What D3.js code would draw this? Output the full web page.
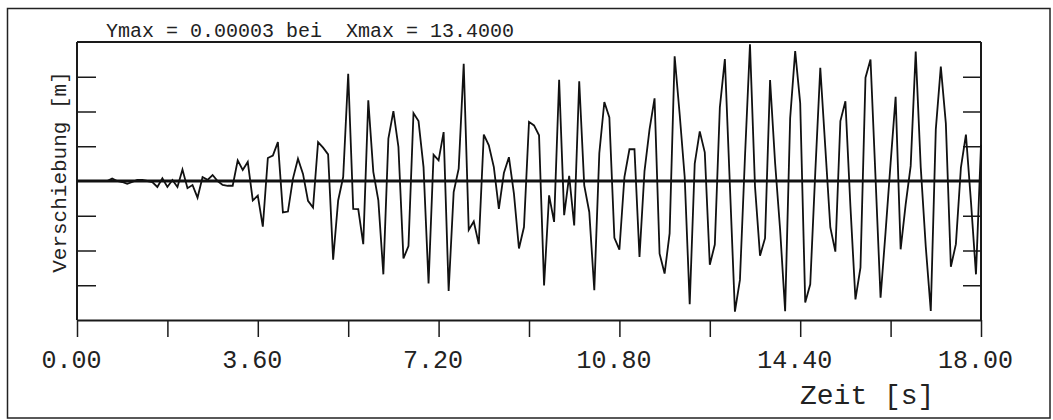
<!DOCTYPE html>
<html>
<head>
<meta charset="utf-8">
<script src="https://cdn.jsdelivr.net/npm/d3@7"></script>
<style>
  html, body { margin: 0; padding: 0; background: #fff; }
  svg { display: block; }
  text { font-family: "Liberation Mono", "DejaVu Sans Mono", monospace; fill: #222; white-space: pre; }
</style>
</head>
<body>
<svg id="chart" width="1053" height="420"></svg>
<script>
// ---- data (displacement in micrometres, sampled every dt seconds) ----
const dt = 0.1;
const displacement = [
  0, 0, 0, 0, 0, 0, 0, 0.6, 0, -0.25,
  -0.7, -0.25, 0.3, 0.3, 0, -0.25, -1.5, 0.7, -1.5, 0.25,
  -1.5, 2.9, -1.8, -1.0, -4.2, 1.0, 0.3, 1.5, 0, -1.0,
  -1.2, -1.2, 5.2, 2.8, 4.8, -4.9, -3.7, -11.5, 5.8, 6.4,
  9.8, -7.9, -7.7, 0.6, 5.6, 1.8, -5.0, -6.7, 9.8, 8.4,
  6.7, -19.8, -4.9, 1.0, 27.0, -7.0, -7.1, -15.9, 20.3, 2.3,
  -4.9, -23.5, 10.7, 17.6, 8.6, -19.5, -16.4, 17.1, 15.1, 3.5,
  -25.8, 6.6, 5.2, 12.3, -27.7, -2.8, 3.1, 29.5, -12.3, -10.2,
  -15.9, 11.7, 9.0, 3.5, -7.0, 2.0, 6.0, -3.2, -17.0, -11.6,
  14.9, 14.0, 11.5, -26.3, -3.6, -10.3, 25.5, -8.6, 1.3, -11.2,
  25.1, -1.1, -7.8, -27.5, 7.0, 19.9, 16.0, -14.3, -17.3, 1.0,
  8.0, 8.0, -19.1, 2.5, 13.0, 20.8, -18.3, -23.3, -13.2, 31.4,
  16.8, 1.0, -31.0, 4.4, 12.5, 7.2, -21.1, -16.0, 18.5, 30.7,
  -1.1, -32.9, -24.9, 6.0, 34.4, -1.4, -18.8, -14.4, 25.4, 4.6,
  -12.2, -32.8, 15.8, 32.7, 19.6, -30.6, -26.0, 2.1, 28.5, 8.4,
  -11.7, -17.8, 15.1, 20.1, -6.4, -29.8, -21.8, 26.0, 30.6, 0.8,
  -29.4, -12.8, 4.5, 21.2, -17.2, -5.9, 3.8, 32.6, 3.5, -16.5,
  -32.7, 13.0, 28.8, 14.5, -21.6, -15.9, 3.4, 11.7, -5.2, -23.5,
  9.1
];
const xDomain = [0, 18];
const yDomain = [-35, 35];
const xTicks = [0, 1.8, 3.6, 5.4, 7.2, 9.0, 10.8, 12.6, 14.4, 16.2, 18.0];
const xTickLabels = ["0.00", "3.60", "7.20", "10.80", "14.40", "18.00"];
const xLabelTicks = [0, 3.6, 7.2, 10.8, 14.4, 18.0];
const yTicks = [-26.25, -17.5, -8.75, 8.75, 17.5, 26.25];
const titleText = "Ymax = 0.00003 bei  Xmax = 13.4000";
const xTitle = "Zeit [s]";
const yTitle = "Verschiebung [m]";

// ---- layout ----
const svg = d3.select("#chart");
const L = 77, R = 981, T = 42, B = 320;

const x = d3.scaleLinear().domain(xDomain).range([L, R]);
const y = d3.scaleLinear().domain(yDomain).range([B, T]);

// outer frame
svg.append("rect")
  .attr("x", 7.5).attr("y", 8.5).attr("width", 1042.5).attr("height", 409.5)
  .attr("fill", "none").attr("stroke", "#222").attr("stroke-width", 1.5);

// plot frame: top, left and right borders
svg.append("line").attr("x1", L).attr("x2", R).attr("y1", T).attr("y2", T)
  .attr("stroke", "#1a1a1a").attr("stroke-width", 2);
svg.append("line").attr("x1", L).attr("x2", L).attr("y1", T).attr("y2", B)
  .attr("stroke", "#1a1a1a").attr("stroke-width", 2);
svg.append("line").attr("x1", R).attr("x2", R).attr("y1", T).attr("y2", B)
  .attr("stroke", "#1a1a1a").attr("stroke-width", 2);

// x axis
const xAxis = d3.axisBottom(x)
  .tickValues(xTicks)
  .tickSize(17)
  .tickSizeOuter(0)
  .tickFormat(d => {
    const k = xLabelTicks.findIndex(v => Math.abs(v - d) < 1e-9);
    return k >= 0 ? xTickLabels[k] : "";
  });
const gx = svg.append("g").attr("transform", `translate(0,${B})`).call(xAxis);
gx.select(".domain").attr("stroke", "#1a1a1a").attr("stroke-width", 2);
gx.selectAll(".tick line").attr("stroke", "#1a1a1a").attr("stroke-width", 1.5);
gx.selectAll(".tick text")
  .attr("font-family", "Liberation Mono, DejaVu Sans Mono, monospace")
  .attr("font-size", 25)
  .attr("fill", "#222")
  .attr("y", 48).attr("dy", 0)
  .attr("dx", -6);

// y axes (inner ticks, no labels)
const gyl = svg.append("g").attr("transform", `translate(${L},0)`)
  .call(d3.axisRight(y).tickValues(yTicks).tickSize(19).tickFormat(""));
gyl.select(".domain").remove();
gyl.selectAll(".tick line").attr("stroke", "#1a1a1a").attr("stroke-width", 1.5);

const gyr = svg.append("g").attr("transform", `translate(${R},0)`)
  .call(d3.axisLeft(y).tickValues(yTicks).tickSize(18).tickFormat(""));
gyr.select(".domain").remove();
gyr.selectAll(".tick line").attr("stroke", "#1a1a1a").attr("stroke-width", 1.5);

// zero line
svg.append("line").attr("x1", L).attr("x2", R).attr("y1", y(0)).attr("y2", y(0))
  .attr("stroke", "#111").attr("stroke-width", 3);

// signal
const line = d3.line()
  .x((d, i) => x(i * dt))
  .y(d => y(d));
svg.append("path")
  .datum(displacement)
  .attr("d", line)
  .attr("fill", "none")
  .attr("stroke", "#111")
  .attr("stroke-width", 1.8)
  .attr("stroke-linejoin", "miter");

// titles
svg.append("text")
  .attr("x", 106).attr("y", 36.5)
  .attr("font-size", 20)
  .text(titleText);

svg.append("text")
  .attr("x", 800).attr("y", 404)
  .attr("font-size", 28)
  .text(xTitle);

svg.append("text")
  .attr("transform", `translate(66,172) rotate(-90)`)
  .attr("text-anchor", "middle")
  .attr("font-size", 21)
  .text(yTitle);
</script>
</body>
</html>
